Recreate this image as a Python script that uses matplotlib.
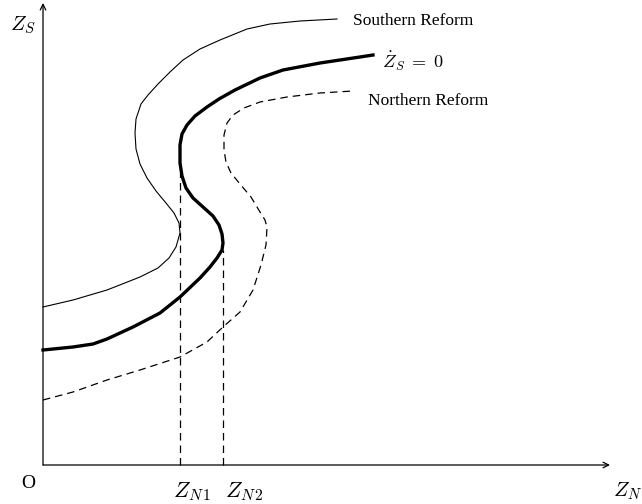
import matplotlib.pyplot as plt

plt.rcParams['mathtext.fontset'] = 'cm'
plt.rcParams['font.family'] = 'Liberation Serif'

# courbe Zs' = 0 (trait epais)
zs_x = [0, 30, 50, 64, 90, 117, 137, 157, 167, 174, 179, 180, 179, 176, 170,
        160, 150, 143, 139, 137, 137, 139, 144, 152, 164, 176, 192, 217, 240, 277, 317, 330]
zs_y = [115, 118, 121, 126, 138, 152, 168, 187, 198, 207, 215, 222, 231, 240, 249,
        258, 267, 277, 289, 302, 320, 331, 340, 349, 358, 366, 375, 387, 395, 402, 408, 410]

# reforme du sud (trait fin)
sud_x = [0, 30, 64, 97, 115, 126, 133, 137, 136, 131, 123, 113, 104, 97, 93, 92,
         93, 98, 105, 115, 127, 140, 157, 177, 204, 227, 257, 294]
sud_y = [158, 165, 175, 188, 197, 207, 218, 232, 242, 252, 262, 274, 287, 301, 316, 332,
         346, 361, 370, 381, 393, 405, 416, 425, 436, 441, 444, 446]

# reforme du nord (tirets)
nord_x = [0, 30, 64, 97, 137, 164, 180, 197, 210, 218, 223, 224, 222, 217, 208,
          197, 188, 183, 181, 181, 184, 190, 201, 217, 244, 277, 310]
nord_y = [65, 73, 85, 95, 108, 123, 138, 153, 175, 200, 220, 238, 245, 253, 268,
          281, 292, 303, 315, 330, 342, 350, 357, 363, 368, 372, 374]

# seuils Z_N1 et Z_N2 et hauteur des pointilles
zn = [137, 180]
zn_top = [292, 215]

fig = plt.figure(figsize=(6.42, 5.04), dpi=100)
ax = fig.add_axes([0, 0, 1, 1])
ax.set_xlim(-43, 599)
ax.set_ylim(-39, 465)
ax.axis('off')

# axes avec fleches
ax.annotate('', xy=(0, 462), xytext=(0, 0),
            arrowprops=dict(arrowstyle='->', lw=0.9, color='black', shrinkA=0, shrinkB=0))
ax.annotate('', xy=(567, 0), xytext=(0, 0),
            arrowprops=dict(arrowstyle='->', lw=0.9, color='black', shrinkA=0, shrinkB=0))

ax.plot(zs_x, zs_y, color='black', lw=2.4, solid_joinstyle='round')
ax.plot(sud_x, sud_y, color='black', lw=0.8, solid_joinstyle='round')
ax.plot(nord_x, nord_y, color='black', lw=0.9, dashes=(6, 4))
for x, top in zip(zn, zn_top):
    ax.plot([x, x], [0, top], color='black', lw=0.9, dashes=(6, 4))

# textes
ax.text(-33, 440, r'$Z_S$', fontsize=15, va='center', ha='left')
ax.text(-22, -19, 'O', fontsize=14, va='center', ha='left')
ax.text(570, -26, r'$Z_N$', fontsize=15, va='center', ha='left')
ax.text(130, -27, r'$Z_{N\,1}$', fontsize=16, va='center', ha='left')
ax.text(182, -27, r'$Z_{N\,2}$', fontsize=16, va='center', ha='left')
ax.text(310, 444, 'Southern Reform', fontsize=12.5, va='center', ha='left')
ax.text(339, 404, r'$\dot{Z}_S\;=\;0$', fontsize=13, va='center', ha='left')
ax.text(325, 364, 'Northern Reform', fontsize=12.5, va='center', ha='left')

fig.savefig('out.png', dpi=100)
